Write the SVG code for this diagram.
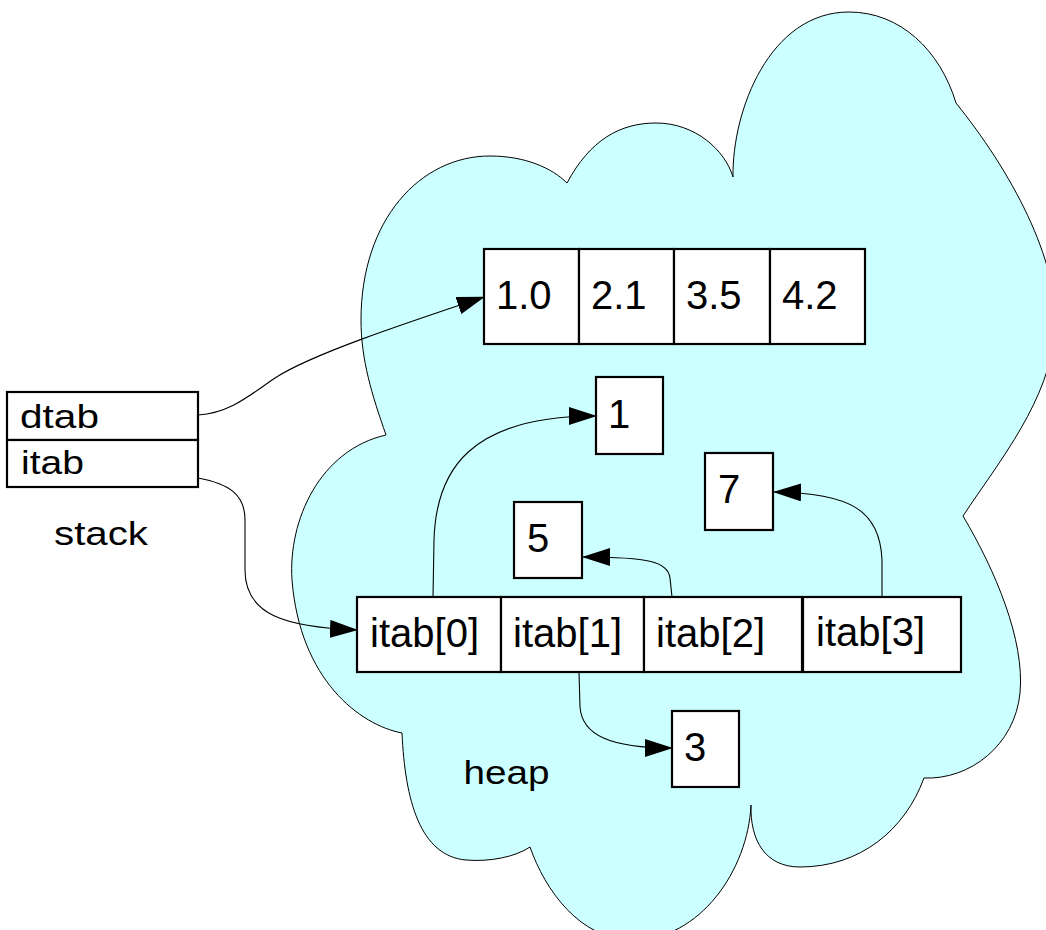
<svg xmlns="http://www.w3.org/2000/svg" width="1046" height="930" viewBox="0 0 1046 930">
<style>
.box{fill:#ffffff;stroke:#000000;stroke-width:2.2}
.t{font-family:"Liberation Sans",Arial,sans-serif;font-size:40px;fill:#000000}
.s{font-family:"Liberation Sans",Arial,sans-serif;font-size:33px;fill:#000000}
.c{fill:none;stroke:#000000;stroke-width:1.1}
</style>
<defs>
<marker id="ah" markerUnits="userSpaceOnUse" markerWidth="28" markerHeight="18" refX="27" refY="9" orient="auto">
<path d="M0,0 L28,9 L0,18 Z" fill="#000000"/>
</marker>
</defs>
<rect width="1046" height="930" fill="#ffffff"/>
<g id="heap-cloud">
<path d="M386,435 C372,395 361,360 361,320 C361,220 420,156 490,156 C525,156 552,168 567,183 C590,140 620,123 656,123 C695,123 725,150 733,177 C732,110 770,12 849,12 C900,12 940,50 956,103 C1010,170 1060,260 1055,330 C1050,400 1000,460 963,516 C995,570 1025,640 1020,693 C1015,745 970,780 924,778 C905,830 860,867 800,867 C765,867 750,840 751,805 C748,870 700,940 633,940 C580,940 545,890 530,847 C515,857 490,862 466,860 C420,856 405,800 402,733 C360,725 300,680 292,580 C288,520 320,450 386,435 Z" fill="#ccffff" stroke="#000000" stroke-width="1"/>
<text class="s" x="463.5" y="784" textLength="86" lengthAdjust="spacingAndGlyphs">heap</text>
</g>
<g id="stack">
<rect class="box" x="7" y="392" width="191" height="48"/>
<rect class="box" x="7" y="440" width="191" height="47"/>
<text class="s" x="20" y="428" textLength="79" lengthAdjust="spacingAndGlyphs">dtab</text>
<text class="s" x="21" y="474" textLength="63" lengthAdjust="spacingAndGlyphs">itab</text>
<text class="s" x="54" y="545" textLength="94" lengthAdjust="spacingAndGlyphs">stack</text>
</g>
<g id="dtab-array">
<rect class="box" x="484" y="249" width="95" height="95"/>
<rect class="box" x="579" y="249" width="95" height="95"/>
<rect class="box" x="674" y="249" width="96" height="95"/>
<rect class="box" x="770" y="249" width="95" height="95"/>
<text class="t" x="496" y="309">1.0</text>
<text class="t" x="591" y="309">2.1</text>
<text class="t" x="686" y="309">3.5</text>
<text class="t" x="782" y="309">4.2</text>
</g>
<g id="itab-array">
<rect class="box" x="357" y="597" width="144" height="75"/>
<rect class="box" x="501" y="597" width="143" height="75"/>
<rect class="box" x="644" y="597" width="158" height="75"/>
<rect class="box" x="803" y="597" width="158" height="75"/>
<text class="t" x="370" y="647" textLength="109" lengthAdjust="spacingAndGlyphs">itab[0]</text>
<text class="t" x="513" y="647" textLength="109" lengthAdjust="spacingAndGlyphs">itab[1]</text>
<text class="t" x="656" y="647" textLength="109" lengthAdjust="spacingAndGlyphs">itab[2]</text>
<text class="t" x="816" y="646" textLength="109" lengthAdjust="spacingAndGlyphs">itab[3]</text>
</g>
<g id="int1">
<rect class="box" x="596" y="377" width="67" height="77"/>
<text class="t" x="608" y="428">1</text>
</g>
<g id="int7">
<rect class="box" x="705" y="453" width="68" height="77"/>
<text class="t" x="718" y="503">7</text>
</g>
<g id="int5">
<rect class="box" x="514" y="502" width="68" height="76"/>
<text class="t" x="527" y="552">5</text>
</g>
<g id="int3">
<rect class="box" x="672" y="711" width="67" height="76"/>
<text class="t" x="684" y="761">3</text>
</g>
<g id="connectors">
<path class="c" marker-end="url(#ah)" d="M198,415 C230,413 250,395 275,378 C310,355 400,325 484,297"/>
<path class="c" marker-end="url(#ah)" d="M198,478 C230,484 245,495 245,520 L245,570 C245,615 285,627 357,630"/>
<path class="c" marker-end="url(#ah)" d="M433,597 L434,540 C436,470 470,416 596,416"/>
<path class="c" marker-end="url(#ah)" d="M672,597 L670,578 C668,562 650,557 583,557"/>
<path class="c" marker-end="url(#ah)" d="M882,596 L882,560 C880,510 850,493 774,492"/>
<path class="c" marker-end="url(#ah)" d="M579,672 L580,707 C582,735 610,748 672,748"/>
</g>
</svg>
